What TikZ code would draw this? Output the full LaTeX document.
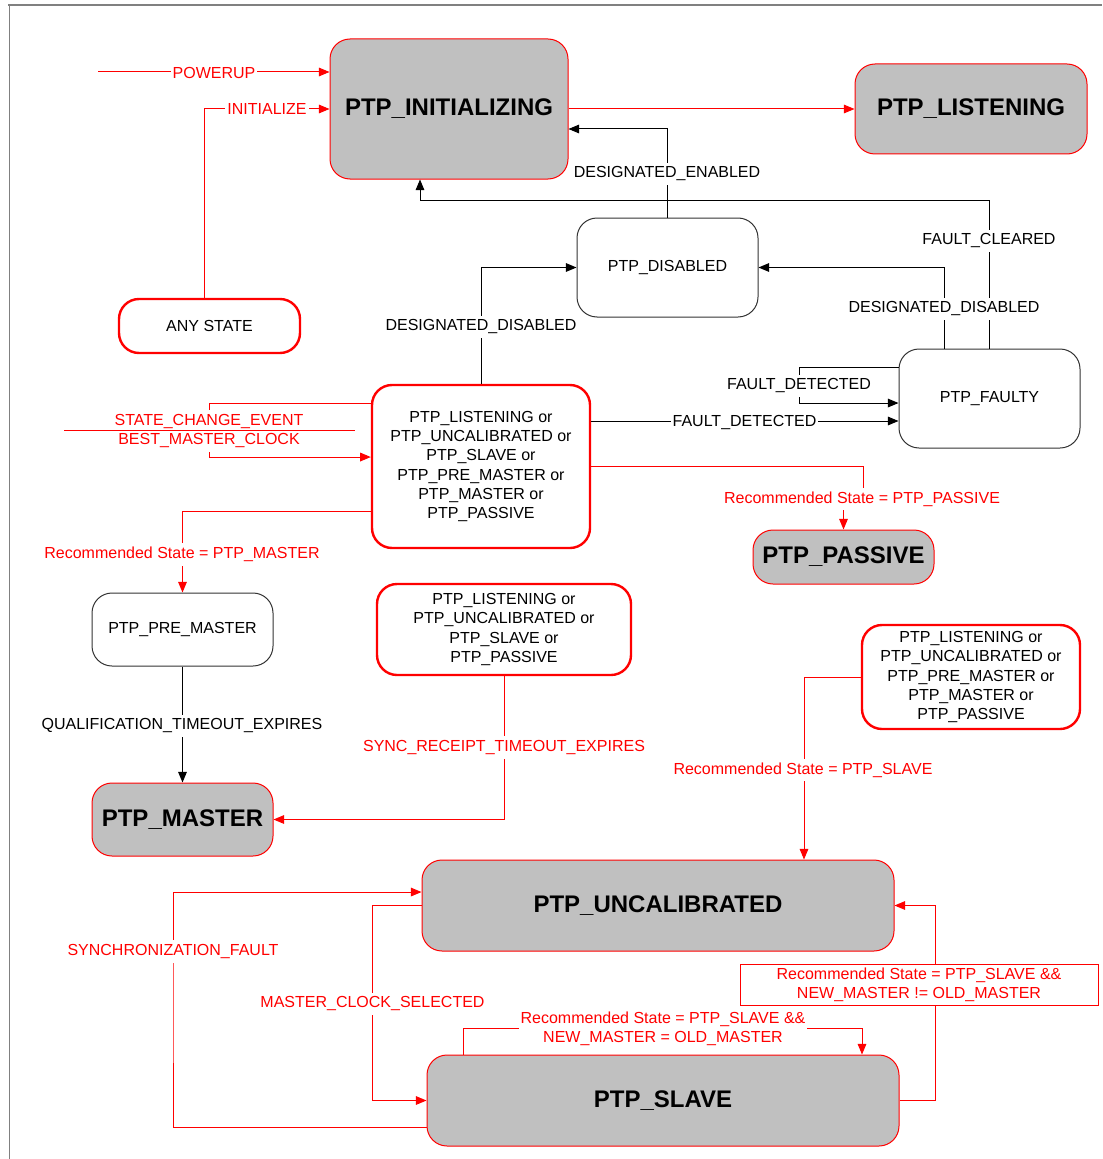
\documentclass[tikz,border=0pt]{standalone}
\usepackage{fontspec}
\setmainfont{Liberation Sans}
\usetikzlibrary{arrows.meta}
\definecolor{gfill}{RGB}{192,192,192}
\definecolor{frame}{RGB}{128,128,128}
\tikzset{
  st/.style={rectangle, rounded corners=15pt, draw=black!80, line width=0.75pt, fill=white,
    font=\fontsize{12}{14.4}\selectfont, align=center, inner sep=2pt},
  gst/.style={st, fill=gfill, draw=red, line width=0.75pt, font=\fontsize{18}{21}\selectfont\bfseries},
  rst/.style={st, draw=red, line width=1.8pt},
  lbl/.style={fill=white, inner xsep=1.5pt, inner ysep=3pt, font=\fontsize{12}{14.4}\selectfont, align=center, yshift=-1.1pt},
  rl/.style={lbl, text=red},
  ar/.style={-{Triangle[length=8pt,width=6.5pt]}, line width=0.75pt, draw=black},
  rar/.style={ar, draw=red},
  rln/.style={line width=0.75pt, draw=red}
}
\begin{document}
\begin{tikzpicture}[x=0.75pt,y=-0.75pt]
\useasboundingbox (0,0) rectangle (1102,1159);
% frame
\coordinate (f1) at (8,5);
\coordinate (f2) at (1102,5);
\coordinate (f3) at (9.5,5);
\coordinate (f4) at (9.5,1159);
\draw[frame, line width=0.9pt] (f1) -- (f2);
\draw[frame, line width=0.9pt] (f3) -- (f4);

% states
\node[gst, minimum width=178.5pt, minimum height=105pt] (init) at (449,109) {PTP\_INITIALIZING};
\node[gst, minimum width=174pt, minimum height=67.5pt] (listen) at (971,109) {PTP\_LISTENING};
\node[rst, minimum width=135.75pt, minimum height=40.5pt] (anys) at (209.5,326) {ANY STATE};
\node[st, minimum width=135.75pt, minimum height=74.25pt] (disabled) at (667.5,267.5) {PTP\_DISABLED};
\node[st, minimum width=135.75pt, minimum height=74.25pt] (faulty) at (989.5,398.5) {PTP\_FAULTY};
\node[rst, minimum width=163.5pt, minimum height=122.25pt] (grpa) at (481,466.5)
  {PTP\_LISTENING or\\PTP\_UNCALIBRATED or\\PTP\_SLAVE or\\PTP\_PRE\_MASTER or\\PTP\_MASTER or\\PTP\_PASSIVE};
\node[gst, minimum width=135.75pt, minimum height=40.5pt] (passive) at (843.5,557) {PTP\_PASSIVE};
\node[st, minimum width=135.75pt, minimum height=54.75pt] (premaster) at (182.5,629.5) {PTP\_PRE\_MASTER};
\node[rst, minimum width=190.5pt, minimum height=68.25pt] (grpb) at (504,629.5)
  {PTP\_LISTENING or\\PTP\_UNCALIBRATED or\\PTP\_SLAVE or\\PTP\_PASSIVE};
\node[rst, minimum width=163.5pt, minimum height=78pt] (grpc) at (971,677)
  {PTP\_LISTENING or\\PTP\_UNCALIBRATED or\\PTP\_PRE\_MASTER or\\PTP\_MASTER or\\PTP\_PASSIVE};
\node[gst, minimum width=135.75pt, minimum height=54.75pt] (master) at (182.5,819.5) {PTP\_MASTER};
\node[gst, minimum width=354pt, minimum height=68.25pt] (uncal) at (658,905.5) {PTP\_UNCALIBRATED};
\node[gst, minimum width=354pt, minimum height=68.25pt] (slave) at (663,1100.5) {PTP\_SLAVE};

% helper coordinates
\coordinate (pw) at (98,72);
\coordinate (fcA) at (420,200);
\coordinate (fdx) at (799,385);
\coordinate (fdy) at (0,421);
\coordinate (scx) at (209,430);
\coordinate (rpA) at (863,497);
\coordinate (rsX) at (804,0);
\coordinate (sfX) at (173,1000);
\coordinate (mcX) at (372.5,1000);
\coordinate (slA) at (463,0);
\coordinate (slB) at (862,1028);
\coordinate (nmX) at (935,1000);

% red connectors
\draw[rar] (pw) -- (init.west |- pw);
\draw[rar] ([xshift=-3.4pt]anys.north) |- (init.west);
\draw[rar] (init.east) -- (listen.west);
\draw[rar] ([yshift=47.6pt]grpa.west) -| (scx) |- ([yshift=7.1pt]grpa.west);
\draw[rar] ([yshift=-34.1pt]grpa.west) -| (premaster.north);
\draw[rar] (grpa.east) -| (rpA) -| (passive.north);
\draw[rar] (grpb.south) |- (master.east);
\draw[rar] (grpc.west) -| (uncal.north -| rsX);
\draw[rar] ([yshift=-19.9pt]slave.west) -| (sfX) |- ([yshift=10.1pt]uncal.west);
\draw[rar] (uncal.west) -| (mcX) |- (slave.west);
\draw[rar] (slave.north -| slA) |- (slB) -- (slave.north -| slB);
\draw[rar] (slave.east) -| (nmX) |- (uncal.east);

% black connectors
\draw[ar] (disabled.north) |- ([yshift=-15pt]init.east);
\draw[ar] (faulty.north) |- (fcA) -- (init.south -| fcA);
\draw[ar] ([xshift=-34.1pt]faulty.north) |- (disabled.east);
\draw[ar] (grpa.north) |- (disabled.west);
\draw[ar] ([yshift=23.6pt]faulty.west) -| (fdx) |- ([yshift=-3.4pt]faulty.west);
\draw[ar] (grpa.east |- fdy) -- (faulty.west |- fdy);
\draw[ar] (premaster.south) -- (master.north);

% labels (red)
\node[rl] (lpw) at (214,72) {POWERUP};
\node[rl] (lin) at (267,108) {INITIALIZE};
\node[rl] (lsc) at (209,420) {STATE\_CHANGE\_EVENT};
\node[rl] (lbm) at (209,439.5) {BEST\_MASTER\_CLOCK};
\coordinate (bar1) at (64,430);
\coordinate (bar2) at (355,430);
\draw[rln] (bar1) -- (bar2);
\node[rl] (lrm) at (182,553) {Recommended State = PTP\_MASTER};
\node[rl] (lrp) at (862,497.5) {Recommended State = PTP\_PASSIVE};
\node[rl] (lsr) at (504,746) {SYNC\_RECEIPT\_TIMEOUT\_EXPIRES};
\node[rl] (lrs) at (803,768.5) {Recommended State = PTP\_SLAVE};
\node[rl] (lsf) at (173,950) {SYNCHRONIZATION\_FAULT};
\node[rl] (lmc) at (372.5,1002.5) {MASTER\_CLOCK\_SELECTED};
\node[rl, inner ysep=1pt, font=\fontsize{12}{14.25}\selectfont] (lse) at (663,1027.5)
  {Recommended State = PTP\_SLAVE \&\&\\NEW\_MASTER = OLD\_MASTER};
\node[rl, draw=red, line width=0.75pt, inner sep=1pt, minimum width=268.5pt, minimum height=30.75pt,
  font=\fontsize{12}{14.25}\selectfont, yshift=1.1pt] (lne) at (919,984.5)
  {Recommended State = PTP\_SLAVE \&\&\\NEW\_MASTER != OLD\_MASTER};

% labels (black)
\node[lbl] (lde) at (667,172.5) {DESIGNATED\_ENABLED};
\node[lbl] (lfc) at (989,239.5) {FAULT\_CLEARED};
\node[lbl] (ldd1) at (944,307.5) {DESIGNATED\_DISABLED};
\node[lbl] (ldd2) at (481,325.5) {DESIGNATED\_DISABLED};
\node[lbl] (lfd1) at (799,384.5) {FAULT\_DETECTED};
\node[lbl] (lfd2) at (744.5,421) {FAULT\_DETECTED};
\node[lbl] (lqt) at (182,724.5) {QUALIFICATION\_TIMEOUT\_EXPIRES};
\end{tikzpicture}
\end{document}
